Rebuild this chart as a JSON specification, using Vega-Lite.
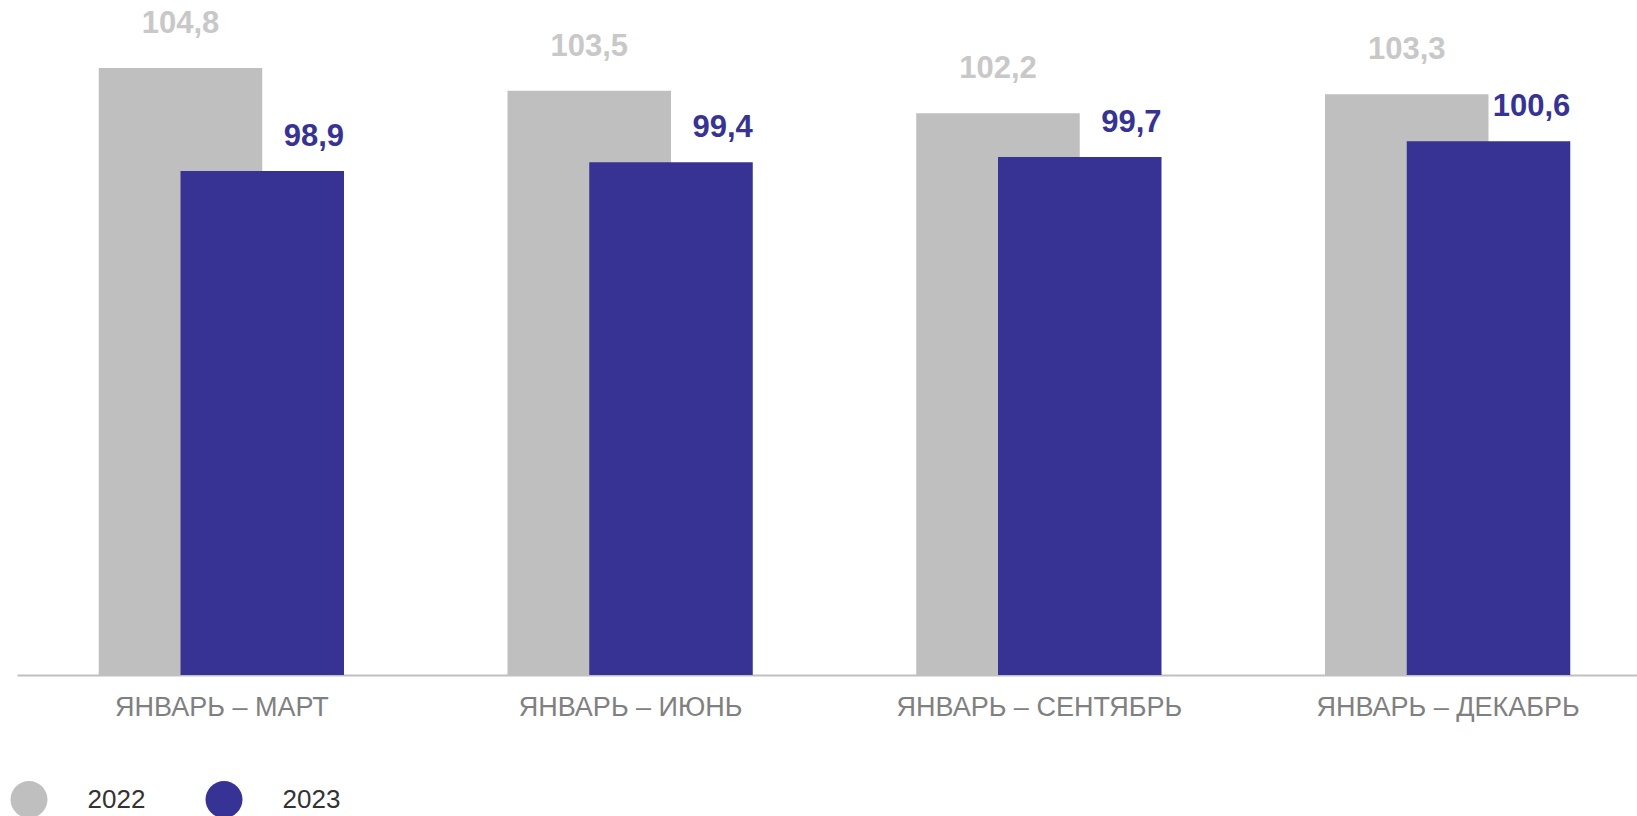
{
  "$schema": "https://vega.github.io/schema/vega-lite/v6.json",
  "width": 1620,
  "height": 675,
  "autosize": {"type": "none"},
  "padding": {"left": 17, "top": 0, "right": 0, "bottom": 141},
  "background": "white",
  "config": {"view": {"stroke": null}, "font": "Liberation Sans"},
  "data": {
    "values": [
      {"period": "ЯНВАРЬ – МАРТ", "year": "2022", "value": 104.8, "label": "104,8"},
      {"period": "ЯНВАРЬ – ИЮНЬ", "year": "2022", "value": 103.5, "label": "103,5"},
      {"period": "ЯНВАРЬ – СЕНТЯБРЬ", "year": "2022", "value": 102.2, "label": "102,2"},
      {"period": "ЯНВАРЬ – ДЕКАБРЬ", "year": "2022", "value": 103.3, "label": "103,3"},
      {"period": "ЯНВАРЬ – МАРТ", "year": "2023", "value": 98.9, "label": "98,9"},
      {"period": "ЯНВАРЬ – ИЮНЬ", "year": "2023", "value": 99.4, "label": "99,4"},
      {"period": "ЯНВАРЬ – СЕНТЯБРЬ", "year": "2023", "value": 99.7, "label": "99,7"},
      {"period": "ЯНВАРЬ – ДЕКАБРЬ", "year": "2023", "value": 100.6, "label": "100,6"}
    ]
  },
  "encoding": {
    "y": {
      "field": "value",
      "type": "quantitative",
      "scale": {"domain": [70, 108.7], "zero": false},
      "axis": null
    }
  },
  "layer": [
    {
      "transform": [{"filter": "datum.year == '2022'"}],
      "encoding": {
        "x": {
          "field": "period",
          "type": "nominal",
          "sort": null,
          "scale": {"range": [0, 1635], "paddingInner": 0.6, "paddingOuter": 0.3, "align": 0.3333},
          "axis": null
        }
      },
      "layer": [
        {
          "mark": {"type": "bar"},
          "encoding": {
            "y2": {"datum": 70},
            "color": {
              "field": "year",
              "type": "nominal",
              "scale": {"domain": ["2022", "2023"], "range": ["#BFBFBF", "#373394"]},
              "legend": {
                "title": null,
                "orient": "none",
                "legendX": -6.5,
                "legendY": 781,
                "direction": "horizontal",
                "symbolType": "circle",
                "symbolSize": 1369,
                "symbolStrokeWidth": 0,
                "symbolOpacity": 1,
                "labelFontSize": 26,
                "labelColor": "#333333",
                "labelFont": "Liberation Sans",
                "labelOffset": 40,
                "columnPadding": 60
              }
            }
          }
        },
        {
          "mark": {"type": "text", "fontSize": 31, "fontWeight": "bold", "color": "#C8C8C8", "baseline": "middle", "dy": -44},
          "encoding": {"text": {"field": "label"}}
        }
      ]
    },
    {
      "transform": [{"filter": "datum.year == '2023'"}],
      "encoding": {
        "x": {
          "field": "period",
          "type": "nominal",
          "sort": null,
          "scale": {"range": [0, 1635], "paddingInner": 0.6, "paddingOuter": 0.3, "align": 0.6667},
          "axis": null
        }
      },
      "layer": [
        {
          "mark": {"type": "bar"},
          "encoding": {
            "y2": {"datum": 70},
            "color": {"field": "year", "type": "nominal"}
          }
        },
        {
          "mark": {"type": "text", "fontSize": 31, "fontWeight": "bold", "color": "#373394", "baseline": "middle", "align": "right", "dy": -34},
          "encoding": {
            "x": {"field": "period", "type": "nominal", "sort": null, "bandPosition": 1},
            "text": {"field": "label"}
          }
        }
      ]
    },
    {
      "transform": [{"filter": "datum.year == '2022'"}],
      "mark": {"type": "text", "text": ""},
      "encoding": {
        "x": {
          "field": "period",
          "type": "nominal",
          "sort": null,
          "scale": {"range": [0, 1635], "paddingInner": 0, "paddingOuter": 0},
          "axis": {
            "orient": "bottom",
            "title": null,
            "ticks": false,
            "labelAngle": 0,
            "labelFontSize": 27,
            "labelColor": "#808080",
            "labelPadding": 19,
            "labelLimit": 0,
            "labelFont": "Liberation Sans",
            "domainColor": "#C0C0C0",
            "domainWidth": 2,
            "grid": false
          }
        }
      }
    }
  ],
  "resolve": {"scale": {"x": "independent"}, "axis": {"x": "independent"}}
}
